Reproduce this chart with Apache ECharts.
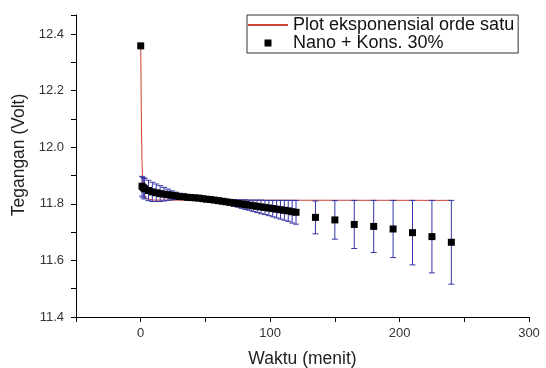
<!DOCTYPE html>
<html>
<head>
<meta charset="utf-8">
<script src="https://cdn.jsdelivr.net/npm/echarts@6/dist/echarts.min.js"></script>
<style>
html,body{margin:0;padding:0;background:#fff;}
#chart{width:546px;height:368px;}
</style>
</head>
<body>
<div id="chart"></div>
<script>
// ---- data ----
const timeMin = [0,1,2,3,6,9,12,15,18,21,24,27,30,33,36,39,42,45,48,51,54,57,60,63,66,69,72,75,78,81,84,87,90,93,96,99,102,105,108,111,114,117,120,135,150,165,180,195,210,225,240];
const voltage = [12.358,11.862,11.857,11.853,11.847,11.842,11.839,11.836,11.834,11.832,11.830,11.828,11.826,11.825,11.823,11.822,11.821,11.820,11.818,11.816,11.815,11.813,11.811,11.809,11.807,11.805,11.803,11.801,11.799,11.797,11.795,11.793,11.791,11.789,11.787,11.785,11.783,11.781,11.779,11.777,11.775,11.772,11.770,11.752,11.743,11.727,11.720,11.711,11.698,11.684,11.664];
const errVolt = [0,0.035,0.036,0.036,0.036,0.034,0.031,0.028,0.024,0.020,0.016,0.013,0.011,0.009,0.008,0.006,0.005,0.004,0.003,0.002,0.002,0.004,0.005,0.007,0.008,0.010,0.012,0.013,0.015,0.017,0.018,0.020,0.022,0.024,0.025,0.027,0.029,0.031,0.033,0.035,0.037,0.040,0.042,0.058,0.068,0.085,0.092,0.101,0.114,0.128,0.148];
const fitTime = [0,0.5,1,1.5,2,3,5,10,240];
const fitVolt = [12.358,12.10,11.95,11.88,11.85,11.83,11.818,11.813,11.812];
const xTickLabels = ['0','100','200','300'];
const yTickLabels = ['11.4','11.6','11.8','12.0','12.2','12.4'];
const seriesNames = ['Plot eksponensial orde satu','Nano + Kons. 30%'];

const FONT = 'Liberation Sans, Arial, sans-serif';
const chart = echarts.init(document.getElementById('chart'), null, {renderer:'canvas'});

const pointData = timeMin.map((t,i)=>[t, voltage[i]]);
const errData = timeMin.map((t,i)=>[t, voltage[i]-errVolt[i], voltage[i]+errVolt[i]]);
const fitData = fitTime.map((t,i)=>[t, fitVolt[i]]);
const ERR_COLOR = '#3535a8';
const FIT_COLOR = '#cc4433';

const option = {
  animation:false,
  backgroundColor:'#ffffff',
  grid:{left:76,right:17,top:15,bottom:51,containLabel:false,outerBoundsMode:'none'},
  legend:{
    orient:'vertical', left:247, top:15,
    padding:[1,4,1,0], itemGap:0, itemWidth:40, itemHeight:7,
    symbolKeepAspect:true,
    borderColor:'#333', borderWidth:1, selectedMode:false,
    textStyle:{fontSize:18, lineHeight:18, color:'#111', fontFamily:FONT},
    data:[
      {name:seriesNames[0], itemStyle:{opacity:0}},
      {name:seriesNames[1], icon:'path://M0,0L10,0L10,10L0,10Z', itemStyle:{color:'#000',opacity:1}}
    ]
  },
  xAxis:{
    type:'value', min:-50, max:300, interval:50,
    name:'Waktu (menit)', nameLocation:'middle', nameGap:33,
    nameTextStyle:{fontSize:17.5,color:'#222',fontFamily:FONT},
    axisLine:{show:true,onZero:false,lineStyle:{color:'#000',width:1}},
    axisTick:{show:true,length:5,inside:false,lineStyle:{color:'#000',width:1}},
    axisLabel:{fontSize:13,color:'#333',margin:10,fontFamily:FONT,
      formatter:function(v){const s=String(Math.round(v));return xTickLabels.indexOf(s)>=0?s:'';}},
    splitLine:{show:false}
  },
  yAxis:{
    type:'value', min:11.4, max:12.467, interval:0.1,
    name:'Tegangan (Volt)', nameLocation:'middle', nameGap:45, nameRotate:90,
    nameTextStyle:{fontSize:17.5,color:'#222',fontFamily:FONT,padding:[0,0,0,22]},
    axisLine:{show:true,onZero:false,lineStyle:{color:'#000',width:1}},
    axisTick:{show:true,length:5,inside:false,lineStyle:{color:'#000',width:1}},
    axisLabel:{fontSize:13,color:'#333',margin:12,fontFamily:FONT,
      formatter:function(v){const s=(Math.round(v*10)/10).toFixed(1);return (Math.abs(v-parseFloat(s))<1e-6 && yTickLabels.indexOf(s)>=0)?s:'';}},
    splitLine:{show:false}
  },
  series:[
    {
      name:seriesNames[0], type:'line', data:fitData, symbol:'none', z:2,
      lineStyle:{color:FIT_COLOR,width:1}, itemStyle:{color:FIT_COLOR}
    },
    {
      name:'err', type:'custom', z:3,
      data:errData, encode:{x:0,y:[1,2]},
      renderItem:function(params, api){
        const x=api.value(0), lo=api.value(1), hi=api.value(2);
        if (hi-lo < 1e-9) return null;
        const top=api.coord([x,hi]), bot=api.coord([x,lo]);
        const w=3;
        const st={stroke:ERR_COLOR,lineWidth:1};
        return {type:'group',children:[
          {type:'line',shape:{x1:top[0],y1:top[1],x2:bot[0],y2:bot[1]},style:st},
          {type:'line',shape:{x1:top[0]-w,y1:top[1],x2:top[0]+w,y2:top[1]},style:st},
          {type:'line',shape:{x1:bot[0]-w,y1:bot[1],x2:bot[0]+w,y2:bot[1]},style:st}
        ]};
      }
    },
    {
      name:seriesNames[1], type:'scatter', data:pointData, symbol:'rect', symbolSize:7, z:4,
      itemStyle:{color:'#000',opacity:1}
    }
  ]
};
chart.setOption(option);
</script>
</body>
</html>
